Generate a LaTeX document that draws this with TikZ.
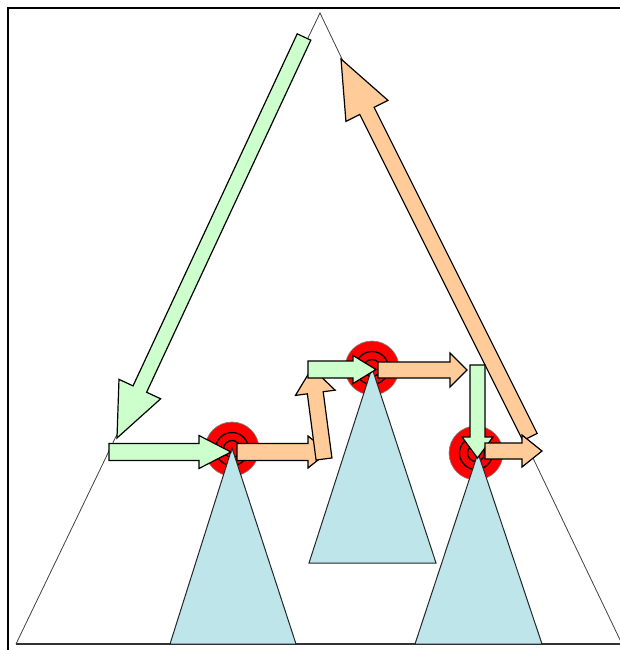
\documentclass[tikz,border=0pt]{standalone}
\usetikzlibrary{calc}
\definecolor{arrgreen}{HTML}{CCFFCC}
\definecolor{arrorange}{HTML}{FFCC99}
\definecolor{subblue}{HTML}{BDE5EA}
\definecolor{tgtred}{HTML}{FF0000}
\tikzset{
  greenarrow/.style={fill=arrgreen,draw=black,line width=1.2pt,line join=miter},
  orangearrow/.style={fill=arrorange,draw=black,line width=1.2pt,line join=miter},
  bigtri/.style={draw=black!75,line width=0.8pt},
  subtri/.style={fill=subblue,draw=black!85,line width=1pt},
  framestyle/.style={draw=black,line width=2pt},
  target/.style={fill=tgtred,draw=black!50,line width=0.6pt},
  ring/.style={draw=black,line width=1.3pt}
}
% #1 style, #2 tail, #3 tip, #4 half shaft width, #5 half head width, #6 head length
\newcommand{\blockarr}[6]{%
  \coordinate (ba-b) at ($(#3)!#6!(#2)$);
  \path[#1] ($(#2)!#4!90:(#3)$) -- ($(ba-b)!#4!-90:(#2)$) -- ($(ba-b)!#5!-90:(#2)$)
    -- (#3) -- ($(ba-b)!#5!90:(#2)$) -- ($(ba-b)!#4!90:(#2)$) -- ($(#2)!#4!-90:(#3)$) -- cycle;
}
\begin{document}
\begin{tikzpicture}[x=1pt,y=-1pt]
\useasboundingbox (0,0) rectangle (620,650);
\clip (0,0) rectangle (620,650);
% frame
\draw[framestyle] (8,652) -- (8,8) -- (622,8);
% big triangle
\coordinate (apex) at (320,13);
\coordinate (bl) at (16,644);
\coordinate (br) at (622,644);
\draw[bigtri] (bl) -- (apex) -- (br);
\draw[draw=black!80,line width=2pt] (bl) -- (br);
% targets
\coordinate (c1) at (232,449);
\coordinate (c2) at (372,368);
\coordinate (c3) at (476,453);
\foreach \c in {c1,c2,c3}{
  \fill[target] (\c) circle[radius=27];
  \draw[ring] (\c) circle[radius=16.5];
  \draw[ring] (\c) circle[radius=8.5];
}
% sub-triangles
\path[subtri] (232,448) coordinate (s1a) -- (170,644) coordinate (s1l) -- (296,644) coordinate (s1r) -- cycle;
\path[subtri] (372,368) coordinate (s2a) -- (309,563) coordinate (s2l) -- (436,563) coordinate (s2r) -- cycle;
\path[subtri] (478,453) coordinate (s3a) -- (415,644) coordinate (s3l) -- (542,644) coordinate (s3r) -- cycle;
% arrow end points
\coordinate (g1t) at (304,37);   \coordinate (g1h) at (117,438);
\coordinate (g2t) at (109,452);  \coordinate (g2h) at (231,452);
\coordinate (o1t) at (237,452);  \coordinate (o1h) at (328,452);
\coordinate (o2t) at (324,459);  \coordinate (o2h) at (312,368);
\coordinate (g3t) at (308,369.5);\coordinate (g3h) at (376,369.5);
\coordinate (o3t) at (378,370);  \coordinate (o3h) at (467,370);
\coordinate (g4t) at (477.5,365);\coordinate (g4h) at (477.5,458);
\coordinate (o4t) at (530,437);  \coordinate (o4h) at (341,59);
\coordinate (o5t) at (485,451);  \coordinate (o5h) at (542,451);
% arrows
\blockarr{greenarrow}{g1t}{g1h}{7.5pt}{23pt}{54pt}
\blockarr{greenarrow}{g2t}{g2h}{8.5pt}{16.5pt}{32pt}
\blockarr{orangearrow}{o1t}{o1h}{8.5pt}{16pt}{20pt}
\blockarr{orangearrow}{o2t}{o2h}{8pt}{20pt}{25pt}
\blockarr{greenarrow}{g3t}{g3h}{8.5pt}{14pt}{23pt}
\blockarr{orangearrow}{o3t}{o3h}{8pt}{17pt}{17pt}
\blockarr{orangearrow}{o4t}{o4h}{8pt}{23.5pt}{58pt}
\blockarr{greenarrow}{g4t}{g4h}{7.5pt}{15.5pt}{21pt}
\blockarr{orangearrow}{o5t}{o5h}{8pt}{16pt}{20pt}
\end{tikzpicture}
\end{document}
